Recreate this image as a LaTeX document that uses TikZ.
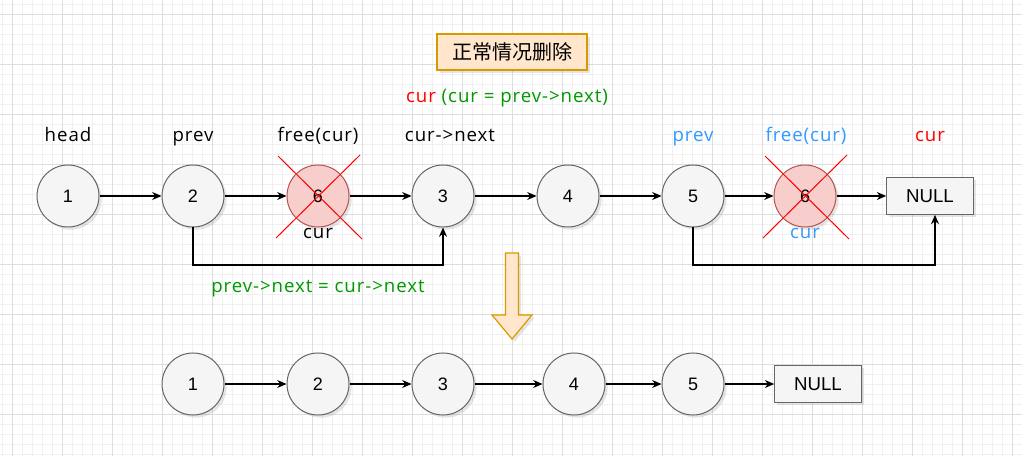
\documentclass[tikz,border=0pt]{standalone}
\usepackage{fontspec}
\setmainfont{Liberation Sans}
\newfontfamily\lblfont[LetterSpace=5]{Open Sans}
\newfontfamily\cjk{Noto Sans CJK SC}
\usetikzlibrary{arrows.meta,shadows}
\definecolor{nodefill}{HTML}{F5F5F5}
\definecolor{nodeline}{HTML}{666666}
\definecolor{redfill}{HTML}{F8CECC}
\definecolor{redline}{HTML}{B85450}
\definecolor{titlefill}{HTML}{FFE6CC}
\definecolor{titleline}{HTML}{D79B00}
\definecolor{txtgreen}{HTML}{009900}
\definecolor{txtblue}{HTML}{3399FF}
\definecolor{gridminor}{HTML}{F0F0F0}
\definecolor{gridmajor}{HTML}{DDDDDD}
\tikzset{
  nd/.style={circle, draw=nodeline, fill=nodefill, minimum size=46.5pt, inner sep=0pt, line width=0.75pt, font=\fontsize{13.5}{15}\selectfont, drop shadow={opacity=0.2, shadow xshift=2pt, shadow yshift=-2pt}},
  ndred/.style={nd, draw=redline, fill=redfill},
  nullbox/.style={rectangle, draw=nodeline, fill=nodefill, minimum width=65pt, minimum height=27.5pt, inner sep=0pt, line width=0.75pt, font=\fontsize{14}{16}\selectfont, drop shadow={opacity=0.2, shadow xshift=2pt, shadow yshift=-2pt}},
  lbl/.style={font=\lblfont\fontsize{14}{16}\selectfont, inner sep=0pt, anchor=base},
  link/.style={-{Stealth[length=7pt,width=6pt]}, line width=0.9pt, black},
  cross/.style={red, line width=0.75pt},
}
\begin{document}
\begin{tikzpicture}[x=0.75pt, y=-0.75pt]
\useasboundingbox (0,0) rectangle (1022,456);
% grid
\fill[white] (0,0) rectangle (1022,456);
\foreach \g in {2,12,...,1022} \draw[gridminor, line width=0.5pt] (\g,0) -- (\g,456);
\foreach \g in {4,14,...,456} \draw[gridminor, line width=0.5pt] (0,\g) -- (1022,\g);
\foreach \g in {12,62,...,1022} \draw[gridmajor, line width=0.6pt] (\g,0) -- (\g,456);
\foreach \g in {14,64,...,456} \draw[gridmajor, line width=0.6pt] (0,\g) -- (1022,\g);

% title
\node[draw=titleline, fill=titlefill, line width=0.9pt, minimum width=112.5pt, minimum height=27pt, inner sep=0pt, font=\cjk\fontsize{15}{17}\selectfont, drop shadow={opacity=0.2, shadow xshift=2pt, shadow yshift=-2pt}] (title) at (512,52) {正常情况删除};
\node[lbl] (curtop) at (507,103) {\color{red}cur \color{txtgreen}(cur = prev->next)};

% top row labels
\node[lbl] (lhead) at (68,142) {head};
\node[lbl] (lprev) at (193,142) {prev};
\node[lbl] (lfree) at (318,142) {free(cur)};
\node[lbl] (lnext) at (450,142) {cur->next};
\node[lbl, text=txtblue] (lprev2) at (693,142) {prev};
\node[lbl, text=txtblue] (lfree2) at (806,142) {free(cur)};
\node[lbl, text=red] (lcur2) at (930,142) {cur};

% top row nodes
\node[nd] (a1) at (68,196) {1};
\node[nd] (a2) at (193,196) {2};
\node[ndred] (a6) at (318,196) {6};
\node[nd] (a3) at (443,196) {3};
\node[nd] (a4) at (568,196) {4};
\node[nd] (a5) at (693,196) {5};
\node[ndred] (b6) at (805,196) {6};
\node[nullbox] (anull) at (930,196) {NULL};

\draw[cross] (276,238) -- (360,155);
\draw[cross] (278,156) -- (362,239);
\draw[cross] (763,238) -- (847,155);
\draw[cross] (765,156) -- (849,239);

\node[lbl] (lcur1) at (318,239) {cur};
\node[lbl, text=txtblue] (lcur3) at (805,239) {cur};

\draw[link] (a1) -- (a2);
\draw[link] (a2) -- (a6);
\draw[link] (a6) -- (a3);
\draw[link] (a3) -- (a4);
\draw[link] (a4) -- (a5);
\draw[link] (a5) -- (b6);
\draw[link] (b6) -- (anull);

\draw[link] (a2.south) -- (193,265) -- (443,265) -- (a3.south);
\draw[link] (a5.south) -- (693,265) -- (935,265) -- ([xshift=3.75pt]anull.south);

\node[lbl, text=txtgreen] (lassign) at (318,292) {prev->next = cur->next};

% down arrow
\draw[titleline, fill=titlefill, line width=0.9pt, drop shadow={opacity=0.2, shadow xshift=2pt, shadow yshift=-2pt}]
  (505.5,253) -- (518.5,253) -- (518.5,315) -- (532,315) -- (512,339) -- (492,315) -- (505.5,315) -- cycle;

% bottom row
\node[nd] (c1) at (193,384) {1};
\node[nd] (c2) at (318,384) {2};
\node[nd] (c3) at (443,384) {3};
\node[nd] (c4) at (574,384) {4};
\node[nd] (c5) at (693,384) {5};
\node[nullbox] (cnull) at (818,384) {NULL};

\draw[link] (c1) -- (c2);
\draw[link] (c2) -- (c3);
\draw[link] (c3) -- (c4);
\draw[link] (c4) -- (c5);
\draw[link] (c5) -- (cnull);
\end{tikzpicture}
\end{document}
